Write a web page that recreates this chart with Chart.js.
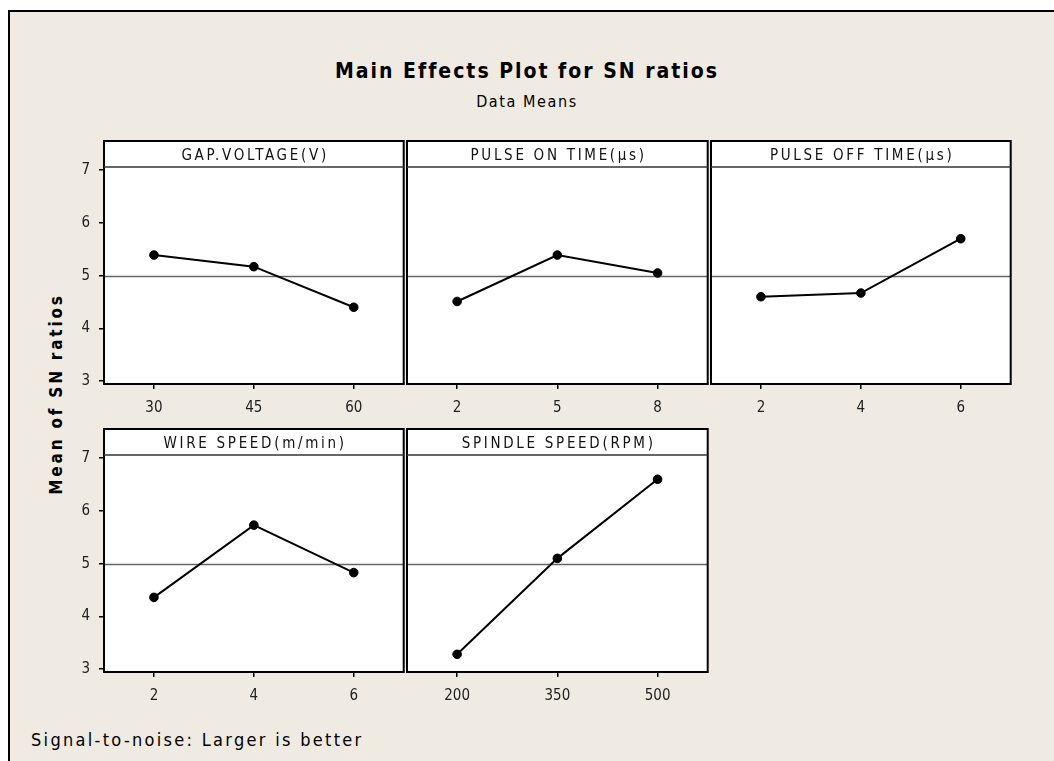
<!DOCTYPE html>
<html>
<head>
<meta charset="utf-8">
<script src="https://cdn.jsdelivr.net/npm/chart.js@4"></script>
<style>
    body { margin: 0; width: 1054px; height: 761px; background: #fff; position: relative; overflow: hidden;
           font-family: 'DejaVu Sans Condensed', 'DejaVu Sans', sans-serif; }
    #marco { position: absolute; left: 8px; top: 10px; right: -10px; bottom: -10px;
             border-left: 2px solid #000; border-top: 2px solid #000; background: #efebe2; }
    canvas { position: absolute; }
    .texto { position: absolute; white-space: nowrap; color: #000; line-height: 1; }
    #titulo { left: 0; width: 1054px; text-align: center; top: 61px; font-size: 21px; font-weight: bold; letter-spacing: 2px; }
    #subtitulo { left: 0; width: 1054px; text-align: center; top: 94px; font-size: 16px; letter-spacing: 1.6px; }
    #tituloY { left: 56px; top: 394px; font-size: 17px; font-weight: bold; letter-spacing: 2.8px;
               transform: translate(-50%, -50%) rotate(-90deg); }
    #pie { left: 31px; top: 731px; font-size: 18px; letter-spacing: 2.3px; }
</style>
</head>
<body>
<div id="marco"></div>
<div class="texto" id="titulo">Main Effects Plot for SN ratios</div>
<div class="texto" id="subtitulo">Data Means</div>
<div class="texto" id="tituloY">Mean of SN ratios</div>
<div class="texto" id="pie">Signal-to-noise: Larger is better</div>

<script>
// Datos
const factores = ['GAP.VOLTAGE(V)', 'PULSE ON TIME(μs)', 'PULSE OFF TIME(μs)', 'WIRE SPEED(m/min)', 'SPINDLE SPEED(RPM)'];

const nivelesGap = ['30', '45', '60'];
const nivelesPulseOn = ['2', '5', '8'];
const nivelesPulseOff = ['2', '4', '6'];
const nivelesWire = ['2', '4', '6'];
const nivelesSpindle = ['200', '350', '500'];

const snGap = [5.39, 5.17, 4.40];
const snPulseOn = [4.51, 5.39, 5.05];
const snPulseOff = [4.60, 4.67, 5.70];
const snWire = [4.36, 5.73, 4.83];
const snSpindle = [3.28, 5.10, 6.60];

const yTicks = [3, 4, 5, 6, 7];
const yMin = 2.945;
const yMax = 7.06;

// media general (línea de referencia)
const todos = [].concat(snGap, snPulseOn, snPulseOff, snWire, snSpindle);
const media = todos.reduce((a, b) => a + b, 0) / todos.length;

const fuente = "'DejaVu Sans Condensed', 'DejaVu Sans', sans-serif";
const alturaTira = 26;

// posiciones de los paneles
const bordesX = [104, 407, 711, 1014];
const topesTira = [141, 429];

const marcoPanel = {
    id: 'marcoPanel',
    beforeDraw(chart) {
        const { ctx, chartArea: a } = chart;
        ctx.save();
        ctx.fillStyle = '#fff';
        ctx.fillRect(a.left, a.top - alturaTira, a.right - a.left, a.bottom - a.top + alturaTira);
        ctx.restore();
    },
    beforeDatasetsDraw(chart, args, opts) {
        const { ctx, chartArea: a } = chart;
        const y = chart.scales.y.getPixelForValue(opts.media);
        ctx.save();
        ctx.strokeStyle = '#666';
        ctx.lineWidth = 1.5;
        ctx.beginPath();
        ctx.moveTo(a.left, y);
        ctx.lineTo(a.right, y);
        ctx.stroke();
        ctx.restore();
    },
    afterDraw(chart, args, opts) {
        const { ctx, chartArea: a } = chart;
        ctx.save();
        ctx.strokeStyle = '#000';
        ctx.lineWidth = 2;
        ctx.strokeRect(a.left, a.top - alturaTira, a.right - a.left, a.bottom - a.top + alturaTira);
        ctx.strokeStyle = '#333';
        ctx.lineWidth = 1.5;
        ctx.beginPath();
        ctx.moveTo(a.left, a.top);
        ctx.lineTo(a.right, a.top);
        ctx.stroke();

        ctx.fillStyle = '#111';
        ctx.font = '15px ' + fuente;
        ctx.letterSpacing = '2.7px';
        ctx.textAlign = 'center';
        ctx.textBaseline = 'middle';
        ctx.fillText(opts.titulo, (a.left + a.right) / 2 + 1.3, a.top - alturaTira / 2 + 2.5);
        ctx.restore();
    }
};

function crearPanel(col, fila, titulo, niveles, valores) {
    const anchoPlot = bordesX[col + 1] - bordesX[col];
    const canvas = document.createElement('canvas');
    canvas.width = 50 + anchoPlot + 2;
    canvas.height = 285;
    canvas.style.left = (bordesX[col] - 50) + 'px';
    canvas.style.top = (topesTira[fila] - 2) + 'px';
    document.body.appendChild(canvas);

    return new Chart(canvas.getContext('2d'), {
        type: 'line',
        data: {
            labels: niveles,
            datasets: [{
                data: valores,
                borderColor: '#000',
                borderWidth: 2,
                pointRadius: 4.3,
                pointHoverRadius: 4.3,
                pointBackgroundColor: '#000',
                pointBorderColor: '#000',
                pointBorderWidth: 1,
                tension: 0,
                fill: false
            }]
        },
        options: {
            responsive: false,
            animation: false,
            events: [],
            layout: { padding: { top: 28, right: 2, left: 0, bottom: 0 } },
            plugins: {
                legend: { display: false },
                tooltip: { enabled: false },
                marcoPanel: { titulo: titulo, media: media }
            },
            scales: {
                x: {
                    type: 'category',
                    offset: true,
                    afterFit: s => { s.height = 40; },
                    ticks: { padding: 10, color: '#222', font: { family: fuente, size: 15 } },
                    grid: { drawOnChartArea: false, tickLength: 5, color: '#000', lineWidth: 1.5, offset: false },
                    border: { display: false }
                },
                y: {
                    min: yMin,
                    max: yMax,
                    afterBuildTicks: s => { s.ticks = yTicks.map(v => ({ value: v })); },
                    afterFit: s => { s.width = 50; },
                    ticks: { display: col === 0, padding: 9, color: '#222', font: { family: fuente, size: 15 } },
                    grid: { display: col === 0, drawOnChartArea: false, tickLength: 5, color: '#000', lineWidth: 1.5 },
                    border: { display: false }
                }
            }
        },
        plugins: [marcoPanel]
    });
}

crearPanel(0, 0, factores[0], nivelesGap, snGap);
crearPanel(1, 0, factores[1], nivelesPulseOn, snPulseOn);
crearPanel(2, 0, factores[2], nivelesPulseOff, snPulseOff);
crearPanel(0, 1, factores[3], nivelesWire, snWire);
crearPanel(1, 1, factores[4], nivelesSpindle, snSpindle);
</script>
</body>
</html>
